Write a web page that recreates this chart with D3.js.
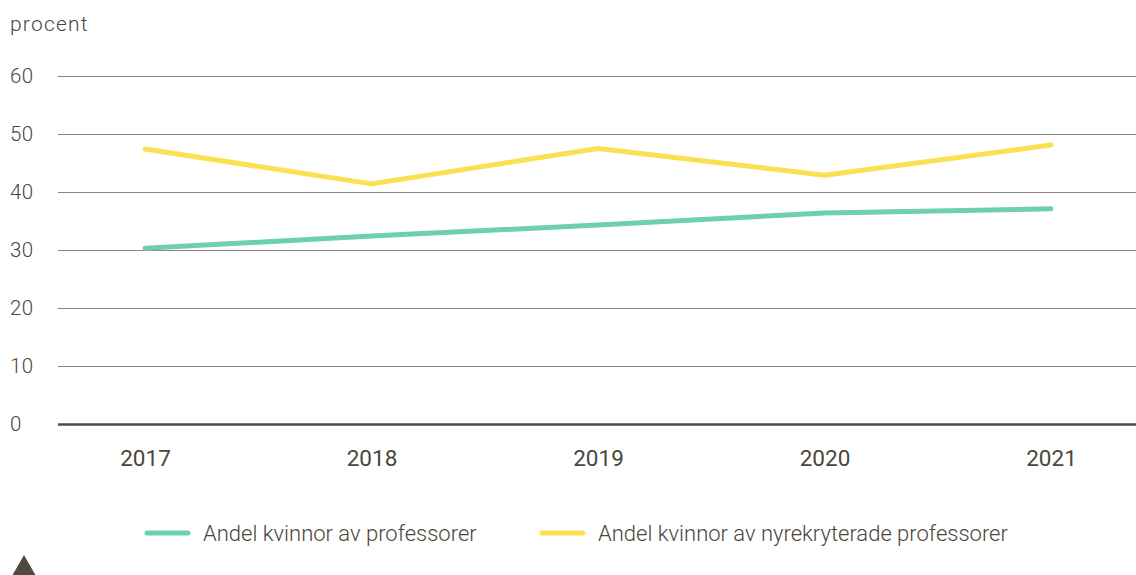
<!DOCTYPE html>
<html>
<head>
<meta charset="utf-8">
<script src="https://cdn.jsdelivr.net/npm/d3@7"></script>
<style>
  body { margin: 0; background: #fff; }
  svg text { font-family: Roboto, "Liberation Sans", sans-serif; font-weight: 300; fill: #4a463c; }
</style>
</head>
<body>
<svg id="chart"></svg>
<script>
// Chart data
const years = ["2017", "2018", "2019", "2020", "2021"];
const professors = [30.3, 32.4, 34.3, 36.4, 37.1];
const newHires = [47.4, 41.4, 47.5, 42.9, 48.1];
const yTicks = [0, 10, 20, 30, 40, 50, 60];
const seriesNames = ["Andel kvinnor av professorer", "Andel kvinnor av nyrekryterade professorer"];
const colors = ["#6dcfb0", "#fbe053"];

const width = 1136;
const height = 575;
const margin = { top: 76, right: 0, bottom: 151, left: 58 };

const svg = d3.select("#chart")
    .attr("width", width)
    .attr("height", height);

// Scales
const xScale = d3.scalePoint()
    .domain(years)
    .range([145, 1051]);

const yScale = d3.scaleLinear()
    .domain([0, 60])
    .range([height - margin.bottom, margin.top]);

// Unit label
svg.append("text")
    .attr("x", 10)
    .attr("y", 31)
    .style("font-size", "21px")
    .style("letter-spacing", "1.2px")
    .text("procent");

// Grid lines + y labels
const yAxis = d3.axisLeft(yScale)
    .tickValues(yTicks)
    .tickSize(-(width - margin.left))
    .tickPadding(24);

const gy = svg.append("g")
    .attr("transform", `translate(${margin.left}, 0)`)
    .call(yAxis);
gy.select(".domain").remove();
gy.selectAll(".tick line")
    .attr("stroke", d => d === 0 ? "#4f4b40" : "#8a877e")
    .attr("stroke-width", d => d === 0 ? 2.5 : 1);
gy.selectAll(".tick text")
    .attr("text-anchor", "start")
    .attr("x", -48)
    .style("font-size", "20.5px")
    .style("letter-spacing", "0.3px");

// X axis labels
const xAxis = d3.axisBottom(xScale).tickSize(0).tickPadding(26);
const gx = svg.append("g")
    .attr("transform", `translate(0, ${yScale(0)})`)
    .call(xAxis);
gx.select(".domain").remove();
gx.selectAll(".tick text")
    .style("font-size", "22.5px")
    .style("font-weight", "400");

// Lines
const line = d3.line()
    .x((d, i) => xScale(years[i]))
    .y(d => yScale(d));

[professors, newHires].forEach((series, i) => {
    svg.append("path")
        .datum(series)
        .attr("fill", "none")
        .attr("stroke", colors[i])
        .attr("stroke-width", 5)
        .attr("stroke-linecap", "round")
        .attr("stroke-linejoin", "round")
        .attr("d", line);
});

// Legend
const legendX = [147, 542];
seriesNames.forEach((name, i) => {
    const g = svg.append("g").attr("transform", `translate(${legendX[i]}, 533)`);
    g.append("line")
        .attr("x1", 0).attr("x2", 41)
        .attr("stroke", colors[i])
        .attr("stroke-width", 5)
        .attr("stroke-linecap", "round");
    g.append("text")
        .attr("x", 56)
        .attr("y", 7.5)
        .style("font-size", "22px")
        .text(name);
});

// Small marker at bottom left
svg.append("path")
    .attr("d", "M12,576 L24,555 L36,576 Z")
    .attr("fill", "#4f4b40");
</script>
</body>
</html>
